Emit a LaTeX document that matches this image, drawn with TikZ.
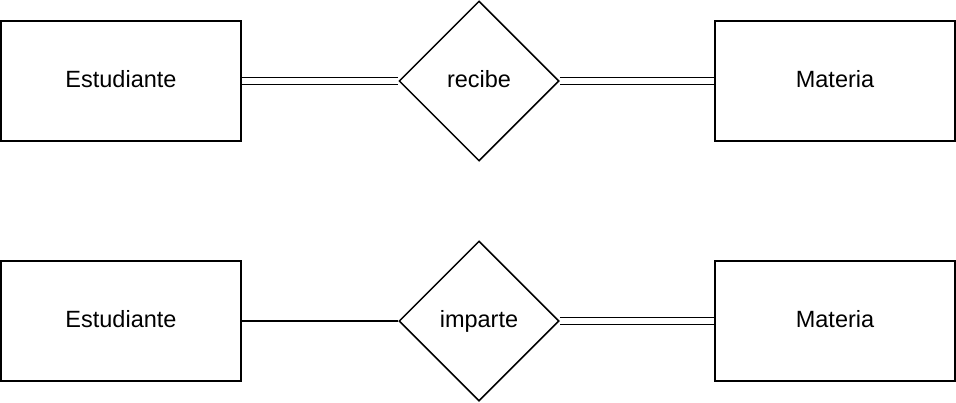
\documentclass[tikz,border=0pt]{standalone}
\usepackage{fontspec}
\setmainfont{Liberation Sans}
\usetikzlibrary{shapes.geometric}
\begin{document}
\begin{tikzpicture}[x=1pt,y=-1pt,
  every node/.style={font=\fontsize{23.5}{28}\selectfont, text=black, text height=16pt, text depth=3pt},
  entity/.style={draw, line width=1.5pt, minimum width=240pt, minimum height=120pt, inner sep=0pt},
  rel/.style={draw, line width=1.5pt, diamond, minimum width=160pt, minimum height=160pt, inner sep=0pt, aspect=1},
  single/.style={line width=1.5pt},
  dbl/.style={line width=1.5pt, double, double distance=5.5pt}]
\useasboundingbox (0,0) rectangle (956,402);
\node[entity] (e1) at (121,81) {Estudiante};
\node[rel] (r1) at (479,81) {recibe};
\node[entity] (m1) at (835,81) {Materia};
\node[entity] (e2) at (121,321) {Estudiante};
\node[rel] (r2) at (479,321) {imparte};
\node[entity] (m2) at (835,321) {Materia};
\draw[dbl] (e1) -- (r1);
\draw[dbl] (r1) -- (m1);
\draw[single] (e2) -- (r2);
\draw[dbl] (r2) -- (m2);
\end{tikzpicture}
\end{document}
